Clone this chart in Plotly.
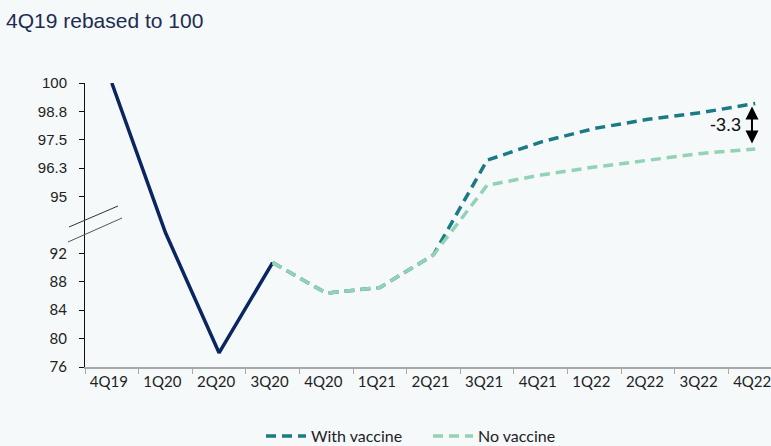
import plotly.graph_objects as go

quarters = ['4Q19', '1Q20', '2Q20', '3Q20', '4Q20', '1Q21', '2Q21',
            '3Q21', '4Q21', '1Q22', '2Q22', '3Q22', '4Q22']
actual = [100.0, 93.1, 78.0, 90.7, None, None, None, None, None, None, None, None, None]
with_vaccine = [None, None, None, 90.7, 86.4, 87.2, 91.8, 96.6, 97.4, 98.0, 98.4, 98.7, 99.1]
no_vaccine = [None, None, None, 90.7, 86.4, 87.2, 91.8, 95.5, 95.95, 96.3, 96.6, 96.9, 97.1]
tick_real = [76, 80, 84, 88, 92, 95, 96.25, 97.5, 98.75, 100]
tick_text = ['76', '80', '84', '88', '92', '95', '96.3', '97.5', '98.8', '100']
gap_label = '-3.3'


def to_axis(v):
    """Broken axis: lower part linear, upper part (>=95) stretched."""
    if v is None:
        return None
    if v >= 95:
        return 100 + (v - 95) * 3.2
    if v <= 92:
        return v
    return 92 + (v - 92) * 8 / 3


BG = '#F5F9FA'
NAVY = '#0A2660'
TEAL = '#1B7B84'
MINT = '#92D2B5'

fig = go.Figure()
fig.add_trace(go.Scatter(x=quarters, y=[to_axis(v) for v in actual], mode='lines',
                         line=dict(color=NAVY, width=3.5), showlegend=False,
                         cliponaxis=False, connectgaps=False, hoverinfo='skip'))
fig.add_trace(go.Scatter(x=quarters, y=[to_axis(v) for v in with_vaccine], mode='lines',
                         name='With vaccine', line=dict(color=TEAL, width=3.5, dash='10px,6px'),
                         cliponaxis=False, hoverinfo='skip'))
fig.add_trace(go.Scatter(x=quarters, y=[to_axis(v) for v in no_vaccine], mode='lines',
                         name='No vaccine', line=dict(color=MINT, width=3.5, dash='10px,6px'),
                         cliponaxis=False, hoverinfo='skip'))

W, H = 771, 446
L, R, T, B = 85, 0, 83, 79
pw = W - L - R
ph = H - T - B


def px_x(p):
    return (p - L) / pw


def px_y(p):
    return (H - B - p) / ph


shapes = [
    dict(type='line', xref='paper', yref='paper', x0=px_x(69), y0=px_y(227), x1=px_x(118), y1=px_y(206),
         line=dict(color='#333333', width=1)),
    dict(type='line', xref='paper', yref='paper', x0=px_x(68), y0=px_y(242), x1=px_x(122), y1=px_y(218),
         line=dict(color='#555555', width=1)),
]

yw = to_axis(with_vaccine[-1])
yn = to_axis(no_vaccine[-1])
xa = 11.94
annotations = [
    dict(x=xa, y=yw, ax=xa, ay=yn, xref='x', yref='y', axref='x', ayref='y',
         text='', showarrow=True, arrowhead=2, startarrowhead=2, arrowside='end+start',
         arrowsize=1.3, arrowwidth=2, arrowcolor='black', standoff=3, startstandoff=4),
    dict(x=xa - 0.17, y=110.1, xref='x', yref='y', text=gap_label, showarrow=False,
         xanchor='right', yanchor='middle',
         font=dict(family='Liberation Sans, Arial', size=18, color='#111111')),
]

tick_labels = []
for v, t in zip(tick_real, tick_text):
    if v < 95:
        tick_labels.append('<span style="font-family:Lato;font-size:15px">%s</span>' % t)
    else:
        tick_labels.append(t)

fig.update_layout(
    width=W, height=H,
    margin=dict(l=L, r=R, t=T, b=B, autoexpand=False),
    paper_bgcolor=BG, plot_bgcolor=BG,
    title=dict(text='4Q19 rebased to 100', xref='container', yref='container',
               x=6 / W, y=1 - 21 / H, xanchor='left', yanchor='middle',
               font=dict(family='Liberation Sans, Arial', size=21, color='#1D2C52')),
    xaxis=dict(type='category', range=[-0.5, 12.5 - 11 / 53.6], showgrid=False, automargin=False,
               showline=True, linecolor='#A8A8A8', linewidth=1.5,
               ticks='outside', tickson='boundaries', ticklen=5, tickcolor='#A8A8A8',
               ticklabelshift=-3,
               tickfont=dict(family='Lato, Open Sans', size=15, color='#222222')),
    yaxis=dict(range=[76, 116], showgrid=False, zeroline=False, automargin=False,
               showline=True, linecolor='#111111', linewidth=1,
               ticks='outside', ticklen=5, tickcolor='#111111', ticklabelstandoff=9,
               tickvals=[to_axis(v) for v in tick_real], ticktext=tick_labels,
               tickfont=dict(family='Liberation Sans, Arial', size=15, color='#222222')),
    legend=dict(orientation='h', x=px_x(261), xanchor='left', y=px_y(419), yanchor='top',
                font=dict(family='Lato, Open Sans', size=16, color='#222222'),
                bgcolor='rgba(0,0,0,0)', itemwidth=40, entrywidth=112, entrywidthmode='pixels'),
    shapes=shapes,
    annotations=annotations,
)

fig.write_html('out.html', config={'displayModeBar': False},
               post_script="document.body.style.margin='0';document.body.style.overflow='hidden';")
